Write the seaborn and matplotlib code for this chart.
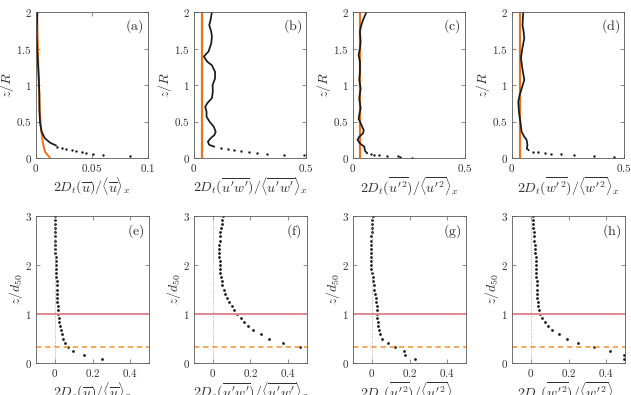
import matplotlib
matplotlib.use("Agg")
import matplotlib.pyplot as plt
from matplotlib.ticker import FuncFormatter
import seaborn as sns

sns.set_theme(style="ticks")
plt.rcParams['mathtext.fontset'] = 'cm'
plt.rcParams['font.family'] = ['DejaVu Serif']

# ---- 上排: 时间离散项 (z/R) ----
# (a) 黑线 + 稀疏点
a_line_z = [2.0, 1.71, 1.44, 1.12, 0.89, 0.66, 0.48, 0.36, 0.27, 0.21, 0.17]
a_line_x = [0.0012, 0.0006, 0.0012, 0.0024, 0.003, 0.003, 0.0036, 0.005, 0.008, 0.0125, 0.018]
a_dot_z = [0.155, 0.132, 0.119, 0.105, 0.091, 0.082, 0.073, 0.055, 0.046, 0.032]
a_dot_x = [0.0185, 0.023, 0.027, 0.032, 0.036, 0.041, 0.045, 0.051, 0.060, 0.084]
a_model_z = [2.0, 1.82, 1.41, 0.95, 0.59, 0.41, 0.22, 0.087, 0.0]
a_model_x = [0.001, 0.0012, 0.0018, 0.0027, 0.0036, 0.0045, 0.006, 0.008, 0.0125]

b_line_z = [2.0, 1.89, 1.82, 1.73, 1.66, 1.57, 1.46, 1.39, 1.32, 1.27, 1.18, 1.09, 1.0,
            0.91, 0.82, 0.75, 0.70, 0.635, 0.566, 0.50, 0.43, 0.36, 0.315, 0.27, 0.224, 0.18, 0.155]
b_line_x = [0.08, 0.074, 0.068, 0.077, 0.08, 0.077, 0.065, 0.044, 0.059, 0.08, 0.094, 0.094, 0.083,
            0.084, 0.08, 0.059, 0.05, 0.056, 0.056, 0.069, 0.088, 0.097, 0.091, 0.074, 0.062, 0.068, 0.091]
b_dot_z = [0.14, 0.128, 0.114, 0.10, 0.087, 0.073, 0.06, 0.046, 0.037]
b_dot_x = [0.121, 0.15, 0.18, 0.21, 0.246, 0.283, 0.327, 0.40, 0.49]
b_model = 0.034

c_line_z = [2.0, 1.89, 1.8, 1.73, 1.59, 1.5, 1.41, 1.32, 1.18, 1.07, 0.95, 0.82, 0.68, 0.59,
            0.54, 0.47, 0.38, 0.34, 0.29, 0.25, 0.2, 0.155, 0.096, 0.064]
c_line_x = [0.06, 0.045, 0.035, 0.031, 0.034, 0.031, 0.025, 0.031, 0.031, 0.028, 0.034, 0.028, 0.034, 0.028,
            0.025, 0.035, 0.048, 0.045, 0.028, 0.02, 0.031, 0.05, 0.054, 0.064]
c_dot_z = [0.05, 0.041, 0.037, 0.032, 0.023, 0.02, 0.005]
c_dot_x = [0.079, 0.094, 0.115, 0.152, 0.203, 0.21, 0.262]
c_model = 0.032

d_line_z = [2.0, 1.82, 1.73, 1.64, 1.5, 1.37, 1.23, 1.07, 0.98, 0.86, 0.77, 0.635, 0.50, 0.36,
            0.29, 0.25, 0.18, 0.13, 0.105]
d_line_x = [0.05, 0.047, 0.052, 0.055, 0.046, 0.04, 0.046, 0.055, 0.046, 0.034, 0.028, 0.031, 0.037, 0.043,
            0.055, 0.065, 0.069, 0.066, 0.075]
d_dot_z = [0.087, 0.078, 0.068, 0.06, 0.05, 0.041, 0.032, 0.018]
d_dot_x = [0.094, 0.117, 0.146, 0.175, 0.22, 0.279, 0.367, 0.456]
d_model = 0.034

# ---- 下排: 空间离散项 (z/d50) ----
zs = [0.083, 0.167, 0.25, 0.333, 0.417, 0.5, 0.583, 0.667, 0.75, 0.833, 0.917, 1.0,
      1.083, 1.167, 1.25, 1.333, 1.417, 1.5, 1.583, 1.667, 1.75, 1.833, 1.917, 2.0,
      2.083, 2.167, 2.25, 2.333, 2.417, 2.5, 2.583, 2.667, 2.75, 2.833, 2.917, 3.0]
e_x = [0.25, 0.155, 0.097, 0.072, 0.052, 0.042, 0.036, 0.031, 0.027, 0.024, 0.021, 0.019,
       0.017, 0.016, 0.014, 0.013, 0.012, 0.011, 0.010, 0.009, 0.008, 0.007, 0.006, 0.005,
       0.0045, 0.004, 0.0035, 0.003, 0.0025, 0.002, 0.0015, 0.001, 0.0005, 0.0, -0.0005, -0.001]
f_x = [0.9, 0.75, 0.6, 0.465, 0.37, 0.30, 0.255, 0.215, 0.185, 0.165, 0.15, 0.13,
       0.115, 0.10, 0.088, 0.077, 0.067, 0.058, 0.051, 0.047, 0.043, 0.040, 0.038, 0.037,
       0.036, 0.035, 0.035, 0.035, 0.035, 0.036, 0.038, 0.040, 0.043, 0.047, 0.051, 0.055]
g_x = [0.23, 0.178, 0.172, 0.122, 0.085, 0.055, 0.043, 0.036, 0.033, 0.031, 0.030, 0.029,
       0.027, 0.025, 0.022, 0.020, 0.016, 0.013, 0.010, 0.007, 0.004, 0.001, -0.002, -0.004,
       -0.006, -0.007, -0.007, -0.006, -0.005, -0.004, -0.003, -0.001, 0.0, 0.002, 0.003, 0.004]
h_x = [0.497, 0.495, 0.42, 0.335, 0.25, 0.19, 0.148, 0.115, 0.092, 0.074, 0.06, 0.049,
       0.042, 0.039, 0.037, 0.035, 0.034, 0.033, 0.032, 0.031, 0.030, 0.029, 0.028, 0.027,
       0.026, 0.025, 0.024, 0.022, 0.021, 0.019, 0.018, 0.016, 0.014, 0.013, 0.011, 0.010]
z_rough = 1.0     # 粗糙顶
z_dashed = 0.33   # 虚线位置

top_xlabels = [r"$2D_t(\overline{u})/\langle\overline{u}\rangle_x$",
               r"$2D_t(\overline{u'w'})/\langle\overline{u'w'}\rangle_x$",
               r"$2D_t(\overline{u'^2})/\langle\overline{u'^2}\rangle_x$",
               r"$2D_t(\overline{w'^2})/\langle\overline{w'^2}\rangle_x$"]
bot_xlabels = [r"$2D_s(\overline{u})/\langle\overline{u}\rangle_x$",
               r"$2D_s(\overline{u'w'})/\langle\overline{u'w'}\rangle_x$",
               r"$2D_s(\overline{u'^2})/\langle\overline{u'^2}\rangle_x$",
               r"$2D_s(\overline{w'^2})/\langle\overline{w'^2}\rangle_x$"]
panel_tags = ["a", "b", "c", "d", "e", "f", "g", "h"]

orange = "#E8731C"
spine_c = "#5a5a5a"
txt_c = "#303030"

fig = plt.figure(figsize=(6.31, 3.95), dpi=100)
lefts = [36, 194, 353, 512]
W, H = 631, 395
fmt = FuncFormatter(lambda v, p: "$%g$" % round(v, 3))


def style(ax):
    for s in ax.spines.values():
        s.set_color(spine_c)
        s.set_linewidth(0.6)
    ax.tick_params(direction="in", top=True, right=True, length=3, width=0.5,
                   color=spine_c, labelcolor=txt_c, labelsize=8, pad=3)
    ax.xaxis.set_major_formatter(fmt)
    ax.yaxis.set_major_formatter(fmt)


top_axes = [fig.add_axes([l / W, 1 - 158 / H, 112 / W, 146 / H]) for l in lefts]
bot_axes = [fig.add_axes([l / W, 1 - 363 / H, 113 / W, 147 / H]) for l in lefts]

lines = [(a_line_x, a_line_z), (b_line_x, b_line_z), (c_line_x, c_line_z), (d_line_x, d_line_z)]
dots = [(a_dot_x, a_dot_z), (b_dot_x, b_dot_z), (c_dot_x, c_dot_z), (d_dot_x, d_dot_z)]
models = [None, b_model, c_model, d_model]

for i, ax in enumerate(top_axes):
    if i == 0:
        sns.lineplot(x=a_model_x, y=a_model_z, sort=False, estimator=None, color=orange,
                     lw=1.4, ax=ax)
    else:
        ax.axvline(models[i], color=orange, lw=1.6)
    sns.lineplot(x=lines[i][0], y=lines[i][1], sort=False, estimator=None, color="k",
                 lw=1.25, ax=ax)
    sns.scatterplot(x=dots[i][0], y=dots[i][1], color="k", s=3, linewidth=0, ax=ax)
    ax.set_ylim(0, 2)
    ax.set_yticks([0, 0.5, 1, 1.5, 2])
    if i == 0:
        ax.set_xlim(0, 0.1)
        ax.set_xticks([0, 0.05, 0.1])
    else:
        ax.set_xlim(0, 0.5)
        ax.set_xticks([0, 0.5])
    ax.set_xlabel(top_xlabels[i], fontsize=10, color=txt_c, labelpad=1)
    ax.set_ylabel(r"$z/R$", fontsize=10, color=txt_c, labelpad=0)
    style(ax)
    ax.text(0.88, 0.9, r"$(\mathrm{%s})$" % panel_tags[i], transform=ax.transAxes,
            ha="center", va="center", fontsize=10, color=txt_c)

bot_data = [e_x, f_x, g_x, h_x]
for i, ax in enumerate(bot_axes):
    ax.axvline(0, color="#999999", lw=0.6, ls=":")
    ax.axhline(z_rough, color="#E08890", lw=1.4)
    ax.axhline(z_dashed, color="#F0922E", lw=1.1, ls=(0, (3.5, 2.5)))
    sns.scatterplot(x=bot_data[i], y=zs, color="k", s=4, linewidth=0, ax=ax)
    ax.set_xlim(-0.1, 0.5)
    ax.set_ylim(0, 3)
    ax.set_xticks([0, 0.2, 0.4])
    ax.set_yticks([0, 1, 2, 3])
    ax.set_xlabel(bot_xlabels[i], fontsize=10, color=txt_c, labelpad=1)
    ax.set_ylabel(r"$z/d_{50}$", fontsize=10, color=txt_c, labelpad=0)
    style(ax)
    ax.text(0.88, 0.9, r"$(\mathrm{%s})$" % panel_tags[i + 4], transform=ax.transAxes,
            ha="center", va="center", fontsize=10, color=txt_c)

fig.savefig("out.png", dpi=100)
